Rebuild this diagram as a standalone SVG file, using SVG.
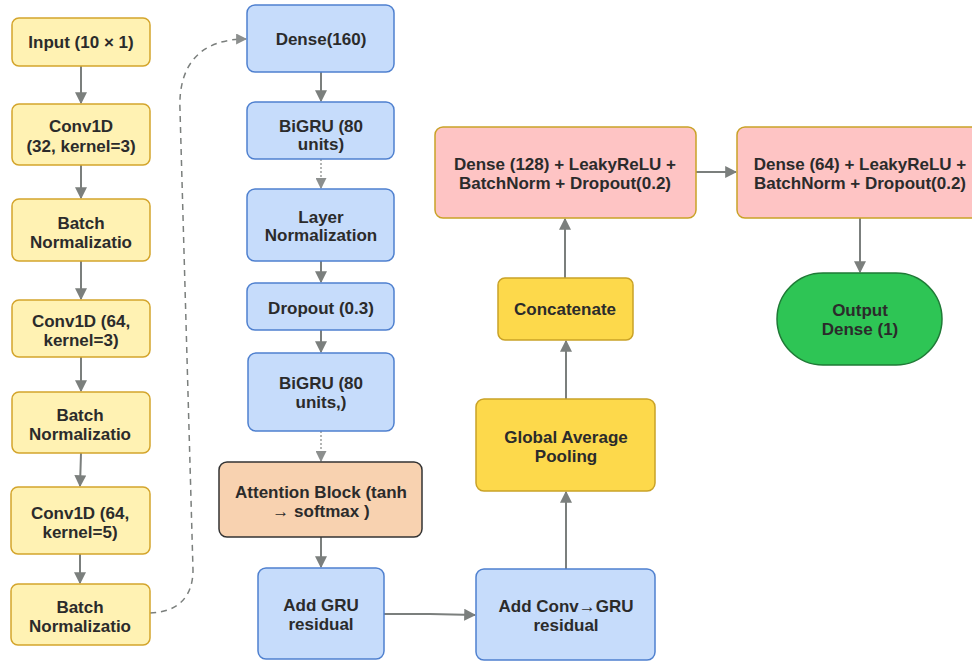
<svg xmlns="http://www.w3.org/2000/svg" width="972" height="663" viewBox="0 0 972 663">
<defs>
<marker id="ah" viewBox="0 0 10 10" refX="9" refY="5" markerWidth="12" markerHeight="12" markerUnits="userSpaceOnUse" orient="auto">
<path d="M0,0 L10,5 L0,10 z" fill="#7b7f7d"/>
</marker>
<marker id="ahl" viewBox="0 0 10 10" refX="9" refY="5" markerWidth="11" markerHeight="11" markerUnits="userSpaceOnUse" orient="auto">
<path d="M0,0 L10,5 L0,10 z" fill="#8c8f8e"/>
</marker>
<style>
text{font-family:"Liberation Sans",Arial,sans-serif;font-weight:bold;font-size:17px;fill:#2b2b2b;text-anchor:middle}
.y{fill:#fff2b3;stroke:#d4a52c;stroke-width:1.5}
.b{fill:#c6dcfb;stroke:#4f80cf;stroke-width:1.5}
.a{fill:#f8d2b0;stroke:#333;stroke-width:1.5}
.g{fill:#fdd94b;stroke:#c9a227;stroke-width:1.5}
.p{fill:#fec4c4;stroke:#c9a227;stroke-width:1.5}
.o{fill:#2ec555;stroke:#1f7a36;stroke-width:1.5}
.c{fill:none;stroke:#7b7f7d;stroke-width:2;marker-end:url(#ah)}
.d{fill:none;stroke:#9a9d9c;stroke-width:1.5;stroke-dasharray:2 2;marker-end:url(#ahl)}
.dash{fill:none;stroke:#7b7f7d;stroke-width:1.5;stroke-dasharray:6 5;marker-end:url(#ahl)}
</style>
</defs>
<rect width="972" height="663" fill="#fff"/>
<g id="connectors">
<line class="c" x1="81" y1="66" x2="81" y2="103"/>
<line class="c" x1="81" y1="165" x2="81" y2="198"/>
<line class="c" x1="81" y1="261" x2="81" y2="299"/>
<line class="c" x1="81" y1="357" x2="81" y2="391"/>
<line class="c" x1="81" y1="453" x2="80" y2="486"/>
<line class="c" x1="80" y1="554" x2="80" y2="583"/>
<path class="dash" d="M150,613 C180,612 193,595 193,570 L180,110 C178,65 200,39 246,39"/>
<line class="c" x1="321" y1="72" x2="321" y2="101"/>
<line class="d" x1="321" y1="159" x2="321" y2="188"/>
<line class="c" x1="321" y1="261" x2="321" y2="282"/>
<line class="c" x1="321" y1="330" x2="321" y2="352"/>
<line class="d" x1="321" y1="431" x2="321" y2="461"/>
<line class="c" x1="321" y1="537" x2="321" y2="567"/>
<path class="c" d="M384,614 L430,614 L475,615"/>
<line class="c" x1="566" y1="569" x2="566" y2="492"/>
<line class="c" x1="566" y1="399" x2="566" y2="341"/>
<line class="c" x1="565" y1="278" x2="565" y2="219"/>
<line class="c" x1="696" y1="172" x2="736" y2="172"/>
<line class="c" x1="860" y1="218" x2="860" y2="272"/>
</g>
<g id="input"><rect class="y" x="12" y="18" width="138" height="48" rx="7"/><text x="81" y="48">Input (10 × 1)</text></g>
<g id="conv1"><rect class="y" x="12" y="104" width="138" height="61" rx="7"/><text x="81" y="132">Conv1D</text><text x="81" y="152">(32, kernel=3)</text></g>
<g id="bn1"><rect class="y" x="12" y="199" width="138" height="62" rx="7"/><text x="81" y="229">Batch</text><text x="81" y="248">Normalizatio</text></g>
<g id="conv2"><rect class="y" x="12" y="300" width="138" height="57" rx="7"/><text x="81" y="327">Conv1D (64,</text><text x="81" y="346">kernel=3)</text></g>
<g id="bn2"><rect class="y" x="12" y="392" width="138" height="61" rx="7"/><text x="80" y="421">Batch</text><text x="80" y="440">Normalizatio</text></g>
<g id="conv3"><rect class="y" x="11" y="487" width="139" height="67" rx="7"/><text x="80" y="519">Conv1D (64,</text><text x="80" y="538">kernel=5)</text></g>
<g id="bn3"><rect class="y" x="11" y="584" width="139" height="61" rx="7"/><text x="80" y="613">Batch</text><text x="80" y="632">Normalizatio</text></g>
<g id="dense160"><rect class="b" x="247" y="5" width="147" height="67" rx="8"/><text x="321" y="45">Dense(160)</text></g>
<g id="bigru1"><rect class="b" x="247" y="102" width="147" height="57" rx="8"/><text x="321" y="132">BiGRU (80</text><text x="321" y="150">units)</text></g>
<g id="layernorm"><rect class="b" x="247" y="189" width="147" height="72" rx="8"/><text x="321" y="223">Layer</text><text x="321" y="241">Normalization</text></g>
<g id="dropout"><rect class="b" x="247" y="283" width="147" height="47" rx="8"/><text x="321" y="314">Dropout (0.3)</text></g>
<g id="bigru2"><rect class="b" x="248" y="353" width="146" height="78" rx="8"/><text x="321" y="389">BiGRU (80</text><text x="321" y="408">units,)</text></g>
<g id="attention"><rect class="a" x="219" y="462" width="203" height="75" rx="8"/><text x="321" y="498">Attention Block (tanh</text><text x="321" y="517">→ softmax )</text></g>
<g id="addgru"><rect class="b" x="258" y="568" width="126" height="91" rx="8"/><text x="321" y="611">Add GRU</text><text x="321" y="630">residual</text></g>
<g id="addconv"><rect class="b" x="476" y="569" width="179" height="91" rx="8"/><text x="566" y="612">Add Conv→GRU</text><text x="566" y="631">residual</text></g>
<g id="gap"><rect class="g" x="476" y="399" width="179" height="92" rx="8"/><text x="566" y="443">Global Average</text><text x="566" y="462">Pooling</text></g>
<g id="concat"><rect class="g" x="498" y="278" width="135" height="62" rx="7"/><text x="565" y="315">Concatenate</text></g>
<g id="dense128"><rect class="p" x="435" y="127" width="261" height="91" rx="8"/><text x="565" y="170">Dense (128) + LeakyReLU +</text><text x="565" y="189">BatchNorm + Dropout(0.2)</text></g>
<g id="dense64"><rect class="p" x="737" y="127" width="250" height="91" rx="8"/><text x="860" y="170">Dense (64) + LeakyReLU +</text><text x="860" y="189">BatchNorm + Dropout(0.2)</text></g>
<g id="output"><rect class="o" x="777" y="273" width="165" height="92" rx="46"/><text x="860" y="316">Output</text><text x="860" y="335">Dense (1)</text></g>
</svg>
